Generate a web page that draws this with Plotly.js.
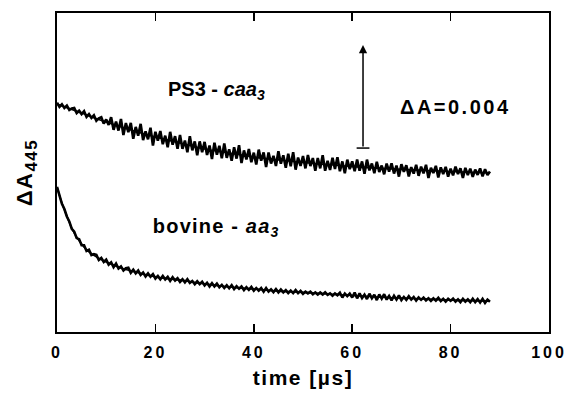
<!DOCTYPE html>
<html>
<head>
<meta charset="utf-8">
<script src="https://cdn.plot.ly/plotly-3.0.1.min.js"></script>
<style>
html,body{margin:0;padding:0;background:#fff;}
#chart{width:568px;height:393px;}
.xtick text{letter-spacing:3px;}
.xtitle{letter-spacing:1.5px;}
.ytitle{letter-spacing:1.5px;}
g.annotation[data-index="1"] text{letter-spacing:1.2px;}
g.annotation[data-index="2"] text{letter-spacing:2.5px;}
</style>
</head>
<body>
<div id="chart"></div>
<script>
// time sampling of the recorded traces (µs)
const traceStart = 0, traceStep = 0.5;

// PS3 - caa3 recorded trace (ΔA ×1000, arbitrary offset)
const ps3Trace = [8.91,8.75,8.85,8.71,8.80,8.63,8.69,8.71,8.51,8.60,8.47,8.58,8.36,8.47,8.32,8.42,8.21,8.31,8.35,8.10,
8.26,8.05,8.35,7.86,8.18,7.83,8.28,7.66,8.12,7.77,8.13,7.51,7.97,7.63,8.09,7.46,7.80,7.49,7.94,7.25,
7.78,7.44,7.81,7.30,7.63,7.18,7.78,7.28,7.61,7.12,7.66,7.12,7.44,6.99,7.61,7.06,7.41,6.87,7.41,6.99,
7.39,6.88,7.25,6.72,7.36,6.89,7.24,6.75,7.33,6.77,7.10,6.66,7.18,6.74,7.26,6.57,7.06,6.71,7.11,6.60,
6.97,6.51,7.09,6.66,6.98,6.41,6.98,6.55,6.85,6.45,7.03,6.54,6.87,6.38,6.93,6.44,6.99,6.31,6.78,6.46,
6.84,6.36,6.88,6.45,6.76,6.27,6.76,6.36,6.87,6.27,6.65,6.30,6.77,6.34,6.79,6.25,6.63,6.17,6.70,6.33,
6.63,6.25,6.70,6.27,6.63,6.15,6.70,6.28,6.55,6.17,6.62,6.22,6.47,6.13,6.55,6.23,6.56,6.16,6.47,6.04,
6.52,6.23,6.48,6.05,6.41,6.16,6.50,6.07,6.43,6.17,6.50,5.99,6.38,6.18,6.46,6.01,6.40,6.14,6.42,6.04,
6.35,6.09,6.43,6.14,6.36,5.99,6.38,6.10,6.35,6.03,6.31,6.11,6.36,6.05,6.33,6.10,6.24];

// bovine - aa3 recorded trace
const bovineTrace = [5.64,5.32,4.98,4.78,4.49,4.30,4.01,3.90,3.65,3.61,3.37,3.37,3.15,3.20,2.99,3.03,3.00,2.80,2.88,2.72,
2.81,2.62,2.71,2.52,2.66,2.47,2.55,2.39,2.48,2.50,2.30,2.42,2.28,2.39,2.22,2.31,2.16,2.28,2.15,2.25,
2.08,2.18,2.05,2.18,2.04,2.14,1.99,2.13,2.00,2.09,1.95,2.05,1.93,2.05,1.91,1.98,1.86,1.97,1.86,1.95,
1.81,1.91,1.77,1.90,1.77,1.88,1.74,1.83,1.71,1.82,1.70,1.82,1.67,1.78,1.68,1.77,1.63,1.74,1.64,1.75,
1.61,1.71,1.61,1.71,1.57,1.71,1.57,1.66,1.55,1.67,1.54,1.65,1.54,1.63,1.51,1.61,1.51,1.63,1.51,1.60,
1.48,1.57,1.50,1.57,1.47,1.54,1.46,1.54,1.46,1.54,1.44,1.50,1.41,1.50,1.43,1.53,1.34,1.49,1.39,1.49,
1.34,1.53,1.31,1.50,1.32,1.45,1.28,1.49,1.31,1.45,1.24,1.46,1.30,1.47,1.26,1.40,1.23,1.41,1.26,1.42,
1.24,1.36,1.25,1.39,1.26,1.36,1.22,1.34,1.25,1.34,1.23,1.31,1.21,1.31,1.22,1.33,1.20,1.29,1.18,1.29,
1.21,1.30,1.18,1.27,1.16,1.29,1.18,1.27,1.16,1.29,1.16,1.28,1.15,1.29,1.13,1.26,1.18];

// fitted curves
const fitTime = [0,5,10,15,20,25,30,35,40,45,50,55,60,65,70,75,80,88];
const ps3Fit = [8.86,8.51,8.16,7.85,7.58,7.35,7.11,6.96,6.80,6.69,6.59,6.51,6.43,6.37,6.32,6.28,6.24,6.18];
const bovFitTime = [0,1,2,3,4,5,6,8,10,13,16,20,25,30,35,40,45,50,55,60,65,70,75,80,88];
const bovineFit = [5.64,5.01,4.51,4.04,3.69,3.42,3.19,2.92,2.72,2.49,2.33,2.14,2.02,1.87,1.75,1.67,1.59,1.54,1.48,1.42,1.36,1.32,1.28,1.24,1.20];

// scale bar ΔA = 0.004 (x position, bottom, top)
const scaleBarX = [62.2];
const scaleBarY = [7.15, 11.16];

// axis ticks
const xTicks = [0,20,40,60,80,100];
const xTickLabels = ['0','20','40','60','80','100'];

const tTrace = ps3Trace.map((_, i) => traceStart + i * traceStep);
const tTrace2 = bovineTrace.map((_, i) => traceStart + i * traceStep);

const FONT = 'Liberation Sans, Arial, Helvetica, sans-serif';

const traces = [
  {x: tTrace, y: ps3Trace, mode: 'lines', line: {color: '#000', width: 2.6}, hoverinfo: 'skip'},
  {x: fitTime, y: ps3Fit, mode: 'lines', line: {color: '#000', width: 1.6, shape: 'spline'}, hoverinfo: 'skip'},
  {x: tTrace2, y: bovineTrace, mode: 'lines', line: {color: '#000', width: 2.6}, hoverinfo: 'skip'},
  {x: bovFitTime, y: bovineFit, mode: 'lines', line: {color: '#000', width: 1.6, shape: 'spline'}, hoverinfo: 'skip'}
];

const layout = {
  width: 568, height: 393,
  margin: {l: 57, r: 19, t: 13, b: 61},
  paper_bgcolor: '#fff', plot_bgcolor: '#fff',
  showlegend: false,
  font: {family: FONT, color: '#000'},
  xaxis: {
    range: [0, 100], tickvals: xTicks, ticktext: xTickLabels,
    ticks: 'inside', ticklen: 8, tickwidth: 1.5, tickcolor: '#000',
    showline: true, linecolor: '#000', linewidth: 1.8, mirror: 'ticks',
    showgrid: false, zeroline: false,
    tickfont: {family: FONT, size: 16, weight: 'bold', color: '#000'},
    ticklabelstandoff: 5,
    title: {text: 'time [µs]', font: {family: FONT, size: 21, weight: 'bold', color: '#000'}, standoff: 10}
  },
  yaxis: {
    range: [0, 12.4], showticklabels: false, ticks: '',
    showline: true, linecolor: '#000', linewidth: 1.8, mirror: true,
    showgrid: false, zeroline: false,
    title: {text: 'ΔA<sub><span style="font-size:17px">445</span></sub>', font: {family: FONT, size: 22, weight: 'bold', color: '#000'}, standoff: 16}
  },
  annotations: [
    {x: 32.5, y: 9.4, xref: 'x', yref: 'y', text: 'PS3 - <i>caa</i><sub><i>3</i></sub>', showarrow: false,
     font: {family: FONT, size: 20, weight: 'bold', color: '#000'}},
    {x: 32.4, y: 4.05, xref: 'x', yref: 'y', text: 'bovine - <i>aa</i><sub><i>3</i></sub>', showarrow: false,
     font: {family: FONT, size: 20, weight: 'bold', color: '#000'}},
    {x: 81, y: 8.75, xref: 'x', yref: 'y', text: 'ΔA=0.004', showarrow: false,
     font: {family: FONT, size: 20, weight: 'bold', color: '#000'}},
    {x: scaleBarX[0], y: scaleBarY[1], ax: scaleBarX[0], ay: scaleBarY[0], xref: 'x', yref: 'y', axref: 'x', ayref: 'y',
     text: '', showarrow: true, arrowhead: 2, arrowsize: 1.1, arrowwidth: 1.5, arrowcolor: '#000', standoff: 0, startstandoff: 0}
  ],
  shapes: [
    {type: 'line', xref: 'x', yref: 'y', x0: scaleBarX[0] - 1.3, x1: scaleBarX[0] + 1.3, y0: scaleBarY[0], y1: scaleBarY[0],
     line: {color: '#000', width: 1.5}}
  ]
};

Plotly.newPlot('chart', traces, layout, {staticPlot: true, displayModeBar: false});
</script>
</body>
</html>
